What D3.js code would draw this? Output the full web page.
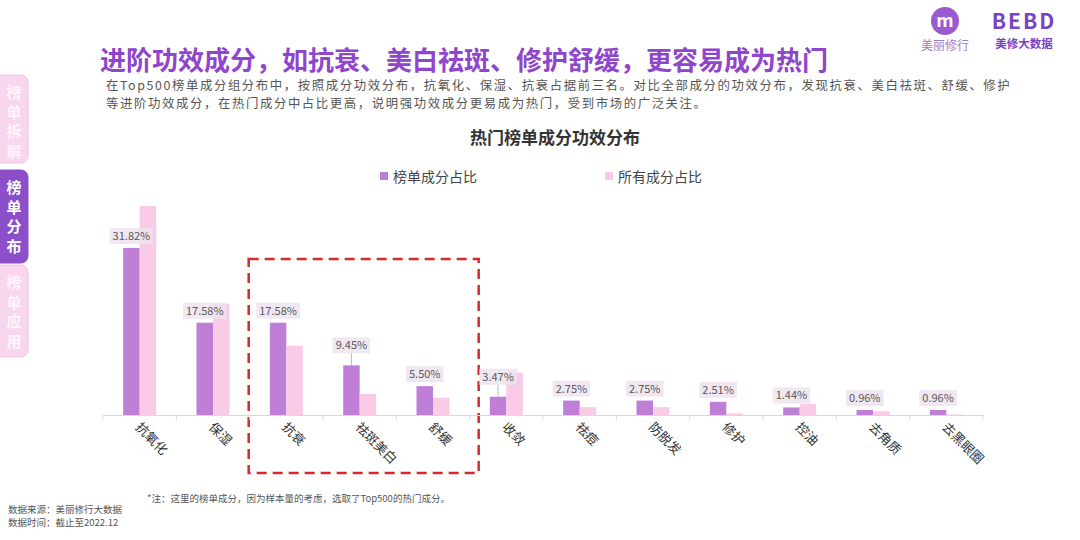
<!DOCTYPE html>
<html>
<head>
<meta charset="utf-8">
<script src="https://cdn.jsdelivr.net/npm/d3@7"></script>
<style>
  body { margin: 0; background: #fff; }
  svg { display: block; font-family: "Noto Sans CJK SC", "Noto Sans", sans-serif; }
</style>
</head>
<body>
<svg id="chart" width="1080" height="540"></svg>
<script>
// values (percent)
var categories = ['抗氧化', '保湿', '抗衰', '祛斑美白', '舒缓', '收敛', '祛痘', '防脱发', '修护', '控油', '去角质', '去黑眼圈'];
var listShare = [31.82, 17.58, 17.58, 9.45, 5.50, 3.47, 2.75, 2.75, 2.51, 1.44, 0.96, 0.96];
var allShare = [39.8, 21.2, 13.2, 4.0, 3.3, 8.1, 1.5, 1.5, 0.3, 2.1, 0.7, 0.1];
var seriesNames = ['榜单成分占比', '所有成分占比'];
var highlighted = ['抗衰', '祛斑美白', '舒缓'];
var tabs = ['榜单拆解', '榜单分布', '榜单应用'];

var PURPLE = '#c07fd6', PINK = '#f9cbe6';

var svg = d3.select('#chart');

// ---- left side tabs
var tabTop = [75, 170, 265], tabH = [88, 93, 92];
tabs.forEach(function(t, i) {
  var active = i === 1;
  svg.append('rect')
    .attr('x', -10).attr('y', tabTop[i]).attr('width', 38).attr('height', tabH[i])
    .attr('rx', 7)
    .attr('fill', active ? '#8b4fc9' : '#f8d6ee')
    .attr('stroke', active ? '#8b4fc9' : '#f1c3e3');
  t.split('').forEach(function(ch, j) {
    svg.append('text')
      .attr('x', 14).attr('y', tabTop[i] + 23 + j * 19.5)
      .attr('text-anchor', 'middle')
      .attr('font-size', 15).attr('font-weight', 700)
      .attr('fill', active ? '#fff' : '#fff4fb')
      .text(ch);
  });
});

// ---- title + intro
svg.append('text')
  .attr('x', 100).attr('y', 70)
  .attr('font-size', 26).attr('font-weight', 700).attr('fill', '#8f45cc')
  .text('进阶功效成分，如抗衰、美白祛斑、修护舒缓，更容易成为热门');

var intro = [
  '在Top500榜单成分组分布中，按照成分功效分布，抗氧化、保湿、抗衰占据前三名。对比全部成分的功效分布，发现抗衰、美白祛斑、舒缓、修护',
  '等进阶功效成分，在热门成分中占比更高，说明强功效成分更易成为热门，受到市场的广泛关注。'
];
intro.forEach(function(line, i) {
  svg.append('text')
    .attr('x', 106).attr('y', 90 + i * 18)
    .attr('font-size', 12.4).attr('letter-spacing', 1.6).attr('fill', '#555')
    .text(line);
});

// ---- logos
svg.append('circle').attr('cx', 945).attr('cy', 21).attr('r', 14).attr('fill', '#9a5bd2');
svg.append('text').attr('x', 945).attr('y', 27).attr('text-anchor', 'middle')
  .attr('font-size', 18).attr('font-weight', 700).attr('fill', '#fff').text('m');
svg.append('text').attr('x', 945).attr('y', 50).attr('text-anchor', 'middle')
  .attr('font-size', 12).attr('fill', '#a27cc4').text('美丽修行');
svg.append('text').attr('x', 1024).attr('y', 29).attr('text-anchor', 'middle')
  .attr('font-size', 21).attr('font-weight', 700).attr('letter-spacing', 2).attr('fill', '#7a42c6').text('BEBD');
svg.append('text').attr('x', 1024).attr('y', 48).attr('text-anchor', 'middle')
  .attr('font-size', 11.5).attr('font-weight', 700).attr('fill', '#7a42c6').text('美修大数据');

// ---- chart title + legend
svg.append('text')
  .attr('x', 555).attr('y', 144).attr('text-anchor', 'middle')
  .attr('font-size', 17).attr('font-weight', 700).attr('fill', '#333')
  .text('热门榜单成分功效分布');

var legendX = [380, 605];
seriesNames.forEach(function(name, i) {
  svg.append('rect').attr('x', legendX[i]).attr('y', 172).attr('width', 8).attr('height', 8)
    .attr('fill', i ? PINK : PURPLE);
  svg.append('text').attr('x', legendX[i] + 13).attr('y', 182)
    .attr('font-size', 14).attr('fill', '#444').text(name);
});

// ---- scales
var baseline = 415;
var x = d3.scaleBand().domain(categories).range([103, 983]);
var x1 = d3.scaleBand().domain([0, 1]).range([0, 33]);
var y = d3.scaleLinear().domain([0, 40]).range([baseline, 205]);
var offset = (x.bandwidth() - 33) / 2;

var rows = categories.map(function(c, i) { return { cat: c, vals: [listShare[i], allShare[i]] }; });

// highlight box round 抗衰 .. 舒缓
var boxL = x(highlighted[0]) - 1,
    boxR = x(highlighted[highlighted.length - 1]) + x.bandwidth() + 9;
svg.append('rect')
  .attr('x', boxL).attr('y', 259).attr('width', boxR - boxL).attr('height', 214)
  .attr('fill', 'none').attr('stroke', '#d42b2b').attr('stroke-width', 2.5)
  .attr('stroke-dasharray', '10,6');

// ---- bars
var groups = svg.selectAll('g.cat').data(rows).enter().append('g')
  .attr('class', 'cat')
  .attr('transform', function(d) { return 'translate(' + (x(d.cat) + offset) + ',0)'; });

groups.selectAll('rect').data(function(d) { return d.vals; }).enter().append('rect')
  .attr('x', function(v, i) { return x1(i); })
  .attr('y', function(v) { return y(v); })
  .attr('width', x1.bandwidth())
  .attr('height', function(v) { return baseline - y(v); })
  .attr('fill', function(v, i) { return i ? PINK : PURPLE; });

// ---- x axis
var axis = svg.append('g').attr('transform', 'translate(0,' + baseline + ')')
  .call(d3.axisBottom(x).tickSize(0).tickFormat(''));
axis.select('.domain').attr('stroke', '#d9d9d9');
axis.selectAll('.tick').remove();
categories.concat([null]).forEach(function(c) {
  var tx = c ? x(c) : x.range()[1];
  axis.append('line').attr('x1', tx).attr('x2', tx).attr('y1', 0).attr('y2', 5).attr('stroke', '#d9d9d9');
});

categories.forEach(function(c) {
  var cx = x(c) + x.bandwidth() / 2 - 5;
  svg.append('text')
    .attr('transform', 'translate(' + cx + ',' + 428 + ') rotate(45)')
    .attr('font-size', 13).attr('fill', '#333')
    .text(c);
});

// ---- data labels for the list series
var leaders = ['祛斑美白', '收敛'];
rows.forEach(function(d) {
  var bx = x(d.cat) + offset + x1(0) + x1.bandwidth() / 2;
  var top = y(d.vals[0]);
  var lifted = leaders.indexOf(d.cat) >= 0;
  var ly = top - (lifted ? 20 : 12);
  var g = svg.append('g');
  var t = g.append('text')
    .attr('x', bx).attr('y', ly + 4)
    .attr('text-anchor', 'middle')
    .attr('font-size', 11).attr('fill', '#5a5a5a')
    .text(d.vals[0].toFixed(2) + '%');
  var w = t.node().getComputedTextLength() + 6;
  g.insert('rect', 'text')
    .attr('x', bx - w / 2).attr('y', ly - 8).attr('width', w).attr('height', 16)
    .attr('fill', '#ede3ef').attr('opacity', 0.85);
  if (lifted) {
    g.append('line').attr('x1', bx).attr('x2', bx).attr('y1', ly + 8).attr('y2', top)
      .attr('stroke', '#aaa').attr('stroke-width', 0.8);
  }
});

// ---- notes
svg.append('text').attr('x', 147).attr('y', 502)
  .attr('font-size', 9.5).attr('fill', '#555')
  .text('*注：这里的榜单成分，因为样本量的考虑，选取了Top500的热门成分。');
svg.append('text').attr('x', 8).attr('y', 513)
  .attr('font-size', 9.5).attr('fill', '#555').text('数据来源：美丽修行大数据');
svg.append('text').attr('x', 8).attr('y', 526)
  .attr('font-size', 9.5).attr('fill', '#555').text('数据时间：截止至2022.12');
</script>
</body>
</html>
